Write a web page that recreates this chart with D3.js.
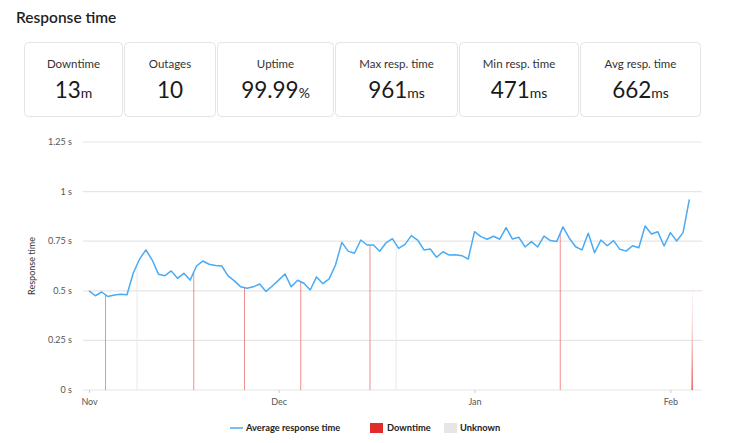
<!DOCTYPE html>
<html>
<head>
<meta charset="utf-8">
<script src="https://cdn.jsdelivr.net/npm/d3@7"></script>
<style>
  body { margin: 0; background: #fff; }
  svg { font-family: Lato, 'Open Sans', sans-serif; }
</style>
</head>
<body>
<svg></svg>
<script>
const width = 750
const height = 443

// summary cards
const statLabels = ['Downtime', 'Outages', 'Uptime', 'Max resp. time', 'Min resp. time', 'Avg resp. time']
const statValues = ['13', '10', '99.99', '961', '471', '662']
const statUnits = ['m', '', '%', 'ms', 'ms', 'ms']

// daily average response time (seconds), starting Nov 1
const startDay = '2019-11-01'
const responseTimes = [
  0.50, 0.475, 0.494, 0.471, 0.479, 0.482, 0.48, 0.59, 0.66, 0.706,
  0.655, 0.583, 0.576, 0.60, 0.563, 0.588, 0.554, 0.625, 0.65, 0.634,
  0.627, 0.625, 0.575, 0.55, 0.52, 0.513, 0.52, 0.534, 0.497, 0.524,
  0.554, 0.585, 0.52, 0.553, 0.538, 0.504, 0.57, 0.536, 0.56, 0.63,
  0.744, 0.70, 0.689, 0.756, 0.731, 0.731, 0.699, 0.742, 0.763, 0.714,
  0.734, 0.778, 0.756, 0.706, 0.711, 0.669, 0.697, 0.68, 0.682, 0.677,
  0.66, 0.798, 0.773, 0.76, 0.775, 0.76, 0.818, 0.761, 0.77, 0.721,
  0.748, 0.721, 0.776, 0.753, 0.748, 0.822, 0.765, 0.722, 0.706, 0.79,
  0.692, 0.756, 0.727, 0.753, 0.709, 0.70, 0.727, 0.717, 0.827, 0.786,
  0.798, 0.726, 0.793, 0.751, 0.793, 0.961
]

// downtime events: time and height (seconds)
const downtimeTimes = ['2019-11-03T14:24', '2019-11-17T13:41', '2019-11-25T14:24', '2019-12-04T12:00',
  '2019-12-15T11:02', '2020-01-14T13:41']
const downtimeValues = [0.48, 0.594, 0.516, 0.545, 0.731, 0.79]
const lastOutageTime = '2020-02-04T10:48'
const lastOutageValue = 0.55

// unknown status events
const unknownTimes = ['2019-11-08T14:24', '2019-12-19T14:24']
const unknownValues = [0.632, 0.734]

const yTicks = [0, 0.25, 0.5, 0.75, 1, 1.25]
const xTicks = ['2019-11-01', '2019-12-01', '2020-01-01', '2020-02-01']
const legendLabels = ['Average response time', 'Downtime', 'Unknown']

const parse = (s) => new Date(s + (s.length > 10 ? ':00Z' : 'T00:00:00Z'))
const day0 = parse(startDay)
const series = responseTimes.map((v, i) => ({ t: d3.utcDay.offset(day0, i), v }))

const svg = d3.select('svg').attr('width', width).attr('height', height)

svg.append('text')
  .attr('x', 16).attr('y', 23)
  .attr('font-size', 15.5).attr('font-weight', 600).attr('fill', '#1f1f1f')
  .text('Response time')

// cards
const cardEdges = [24, 124, 217, 335, 459, 580, 702]
const cards = svg.append('g').selectAll('g').data(statLabels).join('g')
  .attr('transform', (d, i) => `translate(${cardEdges[i]},42)`)
cards.append('rect')
  .attr('x', 0.5).attr('y', 0.5)
  .attr('width', (d, i) => cardEdges[i + 1] - cardEdges[i] - 2)
  .attr('height', 74).attr('rx', 4)
  .attr('fill', '#fff').attr('stroke', '#e4e4e4')
cards.append('text')
  .attr('x', (d, i) => (cardEdges[i + 1] - cardEdges[i] - 1) / 2)
  .attr('y', 25.5).attr('text-anchor', 'middle')
  .attr('font-size', 11.5).attr('fill', '#333')
  .text((d) => d)
const valueText = cards.append('text')
  .attr('x', (d, i) => (cardEdges[i + 1] - cardEdges[i] - 1) / 2)
  .attr('y', 56).attr('text-anchor', 'middle').attr('fill', '#1a1a1a')
valueText.append('tspan').attr('font-size', 22.5).text((d, i) => statValues[i])
valueText.append('tspan').attr('font-size', 14).text((d, i) => statUnits[i])

// scales
const x = d3.scaleUtc()
  .domain([parse('2019-10-31T01:00'), parse('2020-02-06')])
  .range([83, 702])
const y = d3.scaleLinear().domain([0, 1.25]).range([390, 142])

// grid
svg.append('g').selectAll('line').data(yTicks).join('line')
  .attr('x1', 83).attr('x2', 702)
  .attr('y1', (d) => y(d)).attr('y2', (d) => y(d))
  .attr('stroke', '#e6e6e6').attr('stroke-width', 1.2)

svg.append('g').selectAll('text').data(yTicks).join('text')
  .attr('x', 72).attr('y', (d) => y(d) + 3)
  .attr('text-anchor', 'end').attr('font-size', 9).attr('fill', '#555')
  .text((d) => d + ' s')

svg.append('text')
  .attr('transform', `translate(35,${y(0.625)}) rotate(-90)`)
  .attr('text-anchor', 'middle').attr('font-size', 9).attr('fill', '#333')
  .text('Response time')

const xAxis = svg.append('g')
  .attr('transform', 'translate(0,390)')
  .call(d3.axisBottom(x).tickValues(xTicks.map(parse)).tickFormat(d3.utcFormat('%b')).tickSize(3))
xAxis.select('.domain').remove()
xAxis.selectAll('line').attr('stroke', '#ccc')
xAxis.selectAll('text').attr('font-size', 9).attr('fill', '#555').attr('dy', '1.0em')
  .attr('font-family', 'Lato, sans-serif')

// unknown marks
svg.append('g').selectAll('line').data(unknownTimes).join('line')
  .attr('x1', (d) => x(parse(d))).attr('x2', (d) => x(parse(d)))
  .attr('y1', y(0)).attr('y2', (d, i) => y(unknownValues[i]))
  .attr('stroke', '#e8e8e8').attr('stroke-width', 1)

// downtime marks
svg.append('g').selectAll('line').data(downtimeTimes).join('line')
  .attr('x1', (d) => x(parse(d))).attr('x2', (d) => x(parse(d)))
  .attr('y1', y(0)).attr('y2', (d, i) => y(downtimeValues[i]))
  .attr('stroke', '#ec6a6a').attr('stroke-opacity', 0.75).attr('stroke-width', 1)

const grad = svg.append('defs').append('linearGradient')
  .attr('id', 'wedge').attr('x1', 0).attr('x2', 0).attr('y1', 0).attr('y2', 1)
grad.append('stop').attr('offset', '0%').attr('stop-color', '#f6c0c0').attr('stop-opacity', 0.5)
grad.append('stop').attr('offset', '100%').attr('stop-color', '#ec6060').attr('stop-opacity', 0.9)
const lx = x(parse(lastOutageTime))
svg.append('path')
  .attr('d', d3.line()([[lx - 0.9, y(0)], [lx, y(lastOutageValue)], [lx + 0.9, y(0)]]))
  .attr('fill', 'url(#wedge)')

// response time line
svg.append('path')
  .datum(series)
  .attr('d', d3.line().x((d) => x(d.t)).y((d) => y(d.v)))
  .attr('fill', 'none').attr('stroke', '#4aabf5').attr('stroke-width', 1.5)
  .attr('stroke-linejoin', 'round')

// legend
const legend = svg.append('g').attr('font-size', 9.3).attr('font-weight', 700).attr('fill', '#222')
legend.append('line').attr('x1', 230).attr('x2', 243).attr('y1', 428).attr('y2', 428)
  .attr('stroke', '#4aabf5').attr('stroke-width', 1.5)
legend.append('text').attr('x', 246).attr('y', 431).text(legendLabels[0])
legend.append('rect').attr('x', 370).attr('y', 423).attr('width', 13).attr('height', 10).attr('fill', '#e32a2a')
legend.append('text').attr('x', 387).attr('y', 431).text(legendLabels[1])
legend.append('rect').attr('x', 444).attr('y', 423).attr('width', 13).attr('height', 10).attr('fill', '#e6e6e6')
legend.append('text').attr('x', 460).attr('y', 431).text(legendLabels[2])
</script>
</body>
</html>
